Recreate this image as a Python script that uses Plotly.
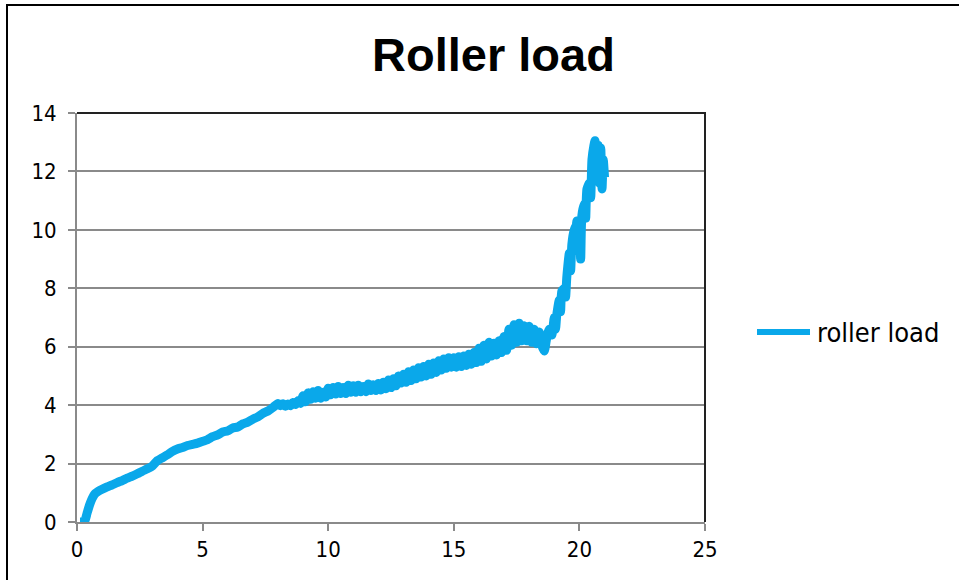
import plotly.graph_objects as go

# Data
x_vals = [0.12, 0.3, 0.4, 0.5, 0.6, 0.7, 0.85, 1.0, 1.2, 1.4, 1.6, 1.8, 2.0, 2.2, 2.4, 2.6, 2.8, 3.0,
          3.2, 3.4, 3.6, 3.8, 4.0, 4.2, 4.4, 4.6, 4.8, 5.0, 5.2, 5.4, 5.6, 5.8, 6.0, 6.2, 6.4, 6.6,
          6.8, 7.0, 7.2, 7.4, 7.6, 7.8,
          8.0, 8.1, 8.2, 8.3, 8.4, 8.5, 8.6, 8.7, 8.8, 8.9,
          9.0, 9.1, 9.2, 9.3, 9.4, 9.5, 9.6, 9.7, 9.8, 9.9,
          10.0, 10.1, 10.2, 10.3, 10.4, 10.5, 10.6, 10.7, 10.8, 10.9,
          11.0, 11.1, 11.2, 11.3, 11.4, 11.5, 11.6, 11.7, 11.8, 11.9,
          12.0, 12.1, 12.2, 12.3, 12.4, 12.5, 12.6, 12.7, 12.8, 12.9,
          13.0, 13.1, 13.2, 13.3, 13.4, 13.5, 13.6, 13.7, 13.8, 13.9,
          14.0, 14.1, 14.2, 14.3, 14.4, 14.5, 14.6, 14.7, 14.8, 14.9,
          15.0, 15.1, 15.2, 15.3, 15.4, 15.5, 15.6, 15.7, 15.8, 15.9,
          16.0, 16.1, 16.2, 16.3, 16.4, 16.5, 16.6, 16.7, 16.8, 16.9,
          17.0, 17.1, 17.2, 17.3, 17.4, 17.5, 17.6, 17.7, 17.8, 17.9,
          18.0, 18.1, 18.2, 18.3, 18.4, 18.5, 18.6, 18.7, 18.8, 18.9,
          19.0, 19.05, 19.1, 19.2, 19.25, 19.3, 19.4, 19.45, 19.5, 19.6, 19.65, 19.7, 19.8, 19.85,
          19.9, 20.0, 20.05, 20.1, 20.2, 20.25, 20.3, 20.4, 20.45, 20.5, 20.58, 20.62, 20.7, 20.75,
          20.8, 20.85, 20.9, 20.95, 21.0]
y_vals = [0.0, 0.02, 0.3, 0.58, 0.8, 0.95, 1.05, 1.12, 1.2, 1.27, 1.35, 1.42, 1.5, 1.57, 1.65, 1.74, 1.82, 1.92,
          2.1, 2.2, 2.3, 2.42, 2.5, 2.55, 2.62, 2.66, 2.7, 2.76, 2.82, 2.92, 2.98, 3.08, 3.12, 3.22, 3.25, 3.36,
          3.42, 3.52, 3.6, 3.72, 3.8, 3.92,
          4.06, 3.98, 4.05, 3.96, 4.04, 3.98, 4.09, 4.02, 4.15, 4.06,
          4.32, 4.12, 4.42, 4.2, 4.46, 4.24, 4.5, 4.24, 4.44, 4.28,
          4.58, 4.36, 4.6, 4.38, 4.64, 4.4, 4.6, 4.4, 4.68, 4.44,
          4.66, 4.44, 4.68, 4.46, 4.64, 4.46, 4.72, 4.5, 4.7, 4.5,
          4.74, 4.52, 4.78, 4.56, 4.86, 4.6, 4.9, 4.66, 5.0, 4.76,
          5.06, 4.78, 5.14, 4.84, 5.2, 4.9, 5.28, 4.96, 5.32, 5.0,
          5.4, 5.06, 5.44, 5.12, 5.52, 5.2, 5.58, 5.26, 5.62, 5.3,
          5.62, 5.3, 5.66, 5.32, 5.68, 5.36, 5.74, 5.4, 5.8, 5.46,
          5.95, 5.5, 6.05, 5.58, 6.15, 5.68, 6.12, 5.72, 6.2, 5.8,
          6.35, 5.88, 6.6, 6.05, 6.75, 6.15, 6.8, 6.2, 6.72, 6.2,
          6.7, 6.15, 6.6, 6.1, 6.5, 6.05, 5.85, 6.3, 6.6, 6.4,
          7.0, 6.6, 7.1, 7.6, 7.2, 7.9, 8.0, 7.7, 8.4, 9.2, 8.6, 9.5, 10.1, 9.3,
          10.3, 10.0, 9.0, 10.5, 10.9, 10.4, 11.4, 11.6, 11.1, 12.4, 12.9, 13.05, 12.4, 12.9,
          11.6, 12.8, 11.4, 12.4, 11.8]

x_ticks = [0, 5, 10, 15, 20, 25]
y_ticks = [0, 2, 4, 6, 8, 10, 12, 14]
series_name = "roller load"
title_text = "Roller load"

# pixel geometry helpers (plot area 77..705 x 113..522)
L, R, T, B = 77, 705, 113, 522
W, H = 959, 580
def px(xp):
    return (xp - L) / (R - L)
def py(yp):
    return (B - yp) / (B - T)

LINE_COLOR = "#0AA8EA"

fig = go.Figure()
fig.add_trace(go.Scatter(
    x=x_vals, y=y_vals, mode="lines", name=series_name, showlegend=False,
    line=dict(color=LINE_COLOR, width=9, shape="spline", smoothing=0.6),
))

tick_font = dict(family="DejaVu Sans Condensed, DejaVu Sans, sans-serif", size=22, color="#000000")

fig.update_layout(
    width=W, height=H, autosize=False,
    margin=dict(l=L, r=W - R, t=T, b=H - B, pad=0),
    paper_bgcolor="#ffffff", plot_bgcolor="#ffffff",
    showlegend=False,
    xaxis=dict(range=[0, 25], tickvals=x_ticks, ticktext=[str(v) for v in x_ticks],
               showgrid=False, zeroline=False, showline=True, linecolor="#8a8a8a", linewidth=2,
               ticks="outside", ticklen=7, tickwidth=2, tickcolor="#8a8a8a",
               tickfont=tick_font, fixedrange=True),
    yaxis=dict(range=[0, 14], tickvals=y_ticks, ticktext=[str(v) for v in y_ticks],
               showgrid=True, gridcolor="#8a8a8a", gridwidth=2, zeroline=False,
               showline=True, linecolor="#8a8a8a", linewidth=2,
               ticks="outside", ticklen=7, tickwidth=2, tickcolor="#8a8a8a",
               ticklabelstandoff=7,
               tickfont=tick_font, fixedrange=True),
    annotations=[
        dict(text="<b>" + title_text + "</b>", x=px(493), y=py(55), xref="paper", yref="paper",
             xanchor="center", yanchor="middle", showarrow=False,
             font=dict(family="Liberation Sans, Arial, sans-serif", size=47, color="#000")),
        # legend label
        dict(text=series_name, x=px(815), y=py(332), xref="paper", yref="paper",
             xanchor="left", yanchor="middle", showarrow=False,
             font=dict(family="DejaVu Sans Condensed, DejaVu Sans, sans-serif", size=27, color="#000")),
    ],
    shapes=[
        # plot area top and right border
        dict(type="path", xref="paper", yref="paper",
             path="M 0 1 L 1 1 L 1 0", line=dict(color="#222222", width=2)),
        # outer chart border (left and top)
        dict(type="path", xref="paper", yref="paper",
             path=f"M {px(7)} {py(585)} L {px(7)} {py(5)} L {px(965)} {py(5)}",
             line=dict(color="#000000", width=2)),
        # legend line sample
        dict(type="line", xref="paper", yref="paper",
             x0=px(757), x1=px(810), y0=py(332), y1=py(332),
             line=dict(color=LINE_COLOR, width=6)),
    ],
)

fig.write_html("out.html", config={"displayModeBar": False},
               post_script="document.body.style.margin='0';")
